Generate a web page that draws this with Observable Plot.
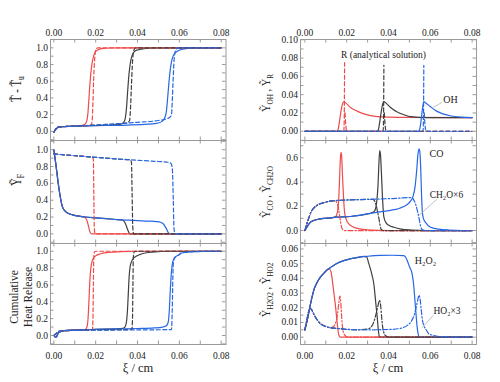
<!DOCTYPE html>
<html><head><meta charset="utf-8">
<script src="https://cdn.jsdelivr.net/npm/d3@7"></script>
<script src="https://cdn.jsdelivr.net/npm/@observablehq/plot@0.6"></script>
<style>
body{margin:0;background:#fff}
#chart{position:relative;width:500px;height:382px;overflow:hidden;background:#fff}
#chart svg{position:absolute;top:0}
#chart svg, #chart svg text{font-family:"Liberation Serif","DejaVu Serif",serif !important}
</style></head><body><div id="chart"></div>
<script>
// ---------- ticks ----------
const xTickLabels = [0, 0.02, 0.04, 0.06, 0.08];
const xTickMarks = [0, 0.01, 0.02, 0.03, 0.04, 0.05, 0.06, 0.07, 0.08];
const yTicksUnit = [-0.1,0,0.1,0.2,0.3,0.4,0.5,0.6,0.7,0.8,0.9,1.0,1.1];
const yLabelsUnit = [0,0.2,0.4,0.6,0.8,1.0];
const yTicksOH = [-0.01,0,0.01,0.02,0.03,0.04,0.05,0.06,0.07,0.08,0.09,0.10];
const yLabelsOH = [0,0.02,0.04,0.06,0.08,0.10];
const yTicksCO = [-0.1,0,0.1,0.2,0.3,0.4,0.5,0.6,0.7];
const yLabelsCO = [0,0.2,0.4,0.6];
const yTicksH2O2 = [-0.005,0,0.005,0.01,0.015,0.02,0.025,0.03,0.035,0.04,0.045,0.05,0.055,0.06];
const yLabelsH2O2 = [0,0.01,0.02,0.03,0.04,0.05,0.06];

// ---------- panel: temperature ----------
const T_solid_red = [[0,-0.01],[0.0008,0.02],[0.002,0.045],[0.004,0.055],[0.008,0.06],[0.012,0.065],[0.014,0.075],[0.015,0.09],[0.0158,0.13],[0.0163,0.22],[0.0168,0.4],[0.0172,0.55],[0.0177,0.7],[0.0183,0.82],[0.019,0.9],[0.0198,0.95],[0.021,0.975],[0.023,0.99],[0.027,0.998],[0.035,1],[0.08,1]];
const T_solid_black = [[0,-0.01],[0.0008,0.02],[0.002,0.045],[0.004,0.055],[0.008,0.06],[0.015,0.065],[0.022,0.07],[0.028,0.075],[0.032,0.085],[0.0335,0.11],[0.0343,0.18],[0.0348,0.3],[0.0352,0.45],[0.0357,0.62],[0.0362,0.75],[0.0368,0.85],[0.0376,0.92],[0.0385,0.955],[0.04,0.975],[0.043,0.99],[0.048,0.998],[0.055,1],[0.08,1]];
const T_solid_blue = [[0,-0.01],[0.0008,0.02],[0.002,0.045],[0.004,0.055],[0.008,0.06],[0.015,0.065],[0.025,0.07],[0.035,0.075],[0.045,0.085],[0.05,0.1],[0.052,0.125],[0.053,0.16],[0.0538,0.24],[0.0544,0.4],[0.0549,0.55],[0.0554,0.68],[0.056,0.8],[0.0567,0.88],[0.0577,0.93],[0.059,0.96],[0.061,0.98],[0.064,0.993],[0.07,1],[0.08,1]];
const T_dash_red = [[0,-0.01],[0.0008,0.025],[0.002,0.05],[0.005,0.058],[0.01,0.062],[0.015,0.068],[0.0178,0.075],[0.0183,0.12],[0.0187,0.35],[0.019,0.6],[0.0194,0.82],[0.0198,0.94],[0.0203,0.99],[0.021,1.0],[0.08,1]];
const T_dash_black = [[0,-0.01],[0.0008,0.025],[0.002,0.05],[0.005,0.058],[0.01,0.062],[0.02,0.075],[0.03,0.09],[0.035,0.1],[0.0362,0.13],[0.0367,0.3],[0.0371,0.55],[0.0375,0.78],[0.0379,0.92],[0.0384,0.98],[0.039,1.0],[0.08,1]];
const T_dash_blue = [[0,-0.01],[0.0008,0.025],[0.002,0.05],[0.005,0.058],[0.01,0.062],[0.02,0.075],[0.03,0.09],[0.04,0.108],[0.05,0.13],[0.054,0.15],[0.0562,0.19],[0.0566,0.35],[0.057,0.6],[0.0574,0.82],[0.0578,0.93],[0.0584,0.98],[0.0595,1.0],[0.08,1]];

// ---------- panel: fuel ----------
const F_solid_red = [[0,1.0],[0.001,0.82],[0.002,0.62],[0.003,0.45],[0.004,0.33],[0.005,0.28],[0.0065,0.248],[0.009,0.226],[0.012,0.21],[0.0145,0.2],[0.0153,0.185],[0.016,0.145],[0.0166,0.085],[0.0171,0.035],[0.0175,0.01],[0.018,0],[0.08,0]];
const F_solid_black = [[0,1.0],[0.001,0.82],[0.002,0.62],[0.003,0.45],[0.004,0.33],[0.005,0.28],[0.0065,0.248],[0.009,0.226],[0.012,0.21],[0.015,0.2],[0.02,0.19],[0.025,0.18],[0.03,0.17],[0.0325,0.165],[0.0335,0.15],[0.0345,0.105],[0.0352,0.055],[0.0358,0.02],[0.0362,0.005],[0.0367,0],[0.08,0]];
const F_solid_blue = [[0,1.0],[0.001,0.82],[0.002,0.62],[0.003,0.45],[0.004,0.33],[0.005,0.28],[0.0065,0.248],[0.009,0.226],[0.012,0.21],[0.015,0.2],[0.02,0.19],[0.025,0.18],[0.03,0.17],[0.035,0.163],[0.04,0.157],[0.045,0.152],[0.049,0.146],[0.051,0.138],[0.052,0.125],[0.053,0.095],[0.054,0.05],[0.0547,0.015],[0.0552,0.003],[0.0557,0],[0.08,0]];
const F_dash_red = [[0,0.95],[0.005,0.94],[0.01,0.93],[0.015,0.92],[0.0185,0.912],[0.0189,0.88],[0.0191,0.5],[0.0193,0.1],[0.0196,0.01],[0.02,0],[0.08,0]];
const F_dash_black = [[0,0.95],[0.005,0.94],[0.01,0.93],[0.015,0.92],[0.02,0.91],[0.025,0.9],[0.03,0.89],[0.0365,0.88],[0.0371,0.85],[0.0374,0.5],[0.0377,0.1],[0.038,0.01],[0.0384,0],[0.08,0]];
const F_dash_blue = [[0,0.95],[0.01,0.93],[0.02,0.91],[0.03,0.89],[0.04,0.875],[0.05,0.86],[0.055,0.85],[0.0562,0.83],[0.0567,0.75],[0.0571,0.4],[0.0574,0.08],[0.0578,0.01],[0.0583,0],[0.08,0]];

// ---------- panel: cumulative heat release ----------
const Q_solid_red = [[0,0],[0.0005,-0.015],[0.001,-0.02],[0.0015,-0.005],[0.002,0.025],[0.003,0.045],[0.005,0.058],[0.01,0.065],[0.015,0.07],[0.0155,0.085],[0.016,0.12],[0.0164,0.22],[0.0168,0.42],[0.0172,0.65],[0.0177,0.8],[0.0183,0.88],[0.019,0.92],[0.02,0.945],[0.0223,0.97],[0.026,0.985],[0.032,0.995],[0.04,1],[0.08,1]];
const Q_solid_black = [[0,0],[0.0005,-0.015],[0.001,-0.02],[0.0015,-0.005],[0.002,0.025],[0.003,0.045],[0.005,0.058],[0.01,0.065],[0.015,0.07],[0.02,0.072],[0.025,0.075],[0.03,0.078],[0.033,0.085],[0.034,0.1],[0.0347,0.16],[0.0352,0.3],[0.0356,0.5],[0.036,0.7],[0.0365,0.82],[0.0372,0.88],[0.038,0.915],[0.039,0.935],[0.041,0.96],[0.043,0.976],[0.047,0.99],[0.055,1],[0.08,1]];
const Q_solid_blue = [[0,0],[0.0005,-0.015],[0.001,-0.02],[0.0015,-0.005],[0.002,0.025],[0.003,0.045],[0.005,0.058],[0.01,0.065],[0.015,0.07],[0.02,0.072],[0.03,0.078],[0.04,0.083],[0.048,0.09],[0.052,0.1],[0.0538,0.115],[0.0547,0.16],[0.0552,0.3],[0.0557,0.55],[0.0562,0.75],[0.0567,0.86],[0.0574,0.91],[0.0585,0.94],[0.06,0.96],[0.0606,0.975],[0.063,0.987],[0.068,0.996],[0.075,1],[0.08,1]];
const Q_dash_red = [[0,0],[0.001,0.02],[0.002,0.045],[0.004,0.055],[0.01,0.06],[0.015,0.063],[0.0184,0.065],[0.0187,0.2],[0.0189,0.6],[0.0191,0.93],[0.0194,0.99],[0.02,1.0],[0.08,1]];
const Q_dash_black = [[0,0],[0.001,0.02],[0.002,0.045],[0.004,0.055],[0.01,0.06],[0.02,0.065],[0.03,0.068],[0.0373,0.072],[0.0376,0.2],[0.0378,0.6],[0.038,0.93],[0.0384,0.99],[0.039,1.0],[0.08,1]];
const Q_dash_blue = [[0,0],[0.001,0.02],[0.002,0.045],[0.004,0.055],[0.01,0.06],[0.02,0.063],[0.03,0.065],[0.04,0.066],[0.05,0.068],[0.0562,0.07],[0.0566,0.3],[0.0569,0.7],[0.0572,0.88],[0.0578,0.92],[0.0588,0.945],[0.06,0.96],[0.0606,0.975],[0.063,0.987],[0.068,0.996],[0.075,1],[0.08,1]];

// ---------- panel: OH and R ----------
const OH_red = [[0,0],[0.0155,0],[0.016,0.003],[0.0165,0.01],[0.017,0.018],[0.0175,0.025],[0.018,0.03],[0.0186,0.0325],[0.0195,0.031],[0.0218,0.026],[0.025,0.022],[0.0282,0.019],[0.0346,0.016],[0.045,0.0152],[0.08,0.015]];
const OH_black = [[0,0],[0.0348,0],[0.0353,0.003],[0.0358,0.01],[0.0363,0.018],[0.0368,0.025],[0.0372,0.03],[0.0378,0.0325],[0.0387,0.031],[0.041,0.026],[0.0442,0.021],[0.0475,0.018],[0.0505,0.016],[0.058,0.015],[0.08,0.0148]];
const OH_blue = [[0,0],[0.0545,0],[0.055,0.003],[0.0555,0.01],[0.056,0.02],[0.0564,0.027],[0.0569,0.0325],[0.0578,0.031],[0.06,0.027],[0.063,0.022],[0.066,0.019],[0.07,0.0167],[0.075,0.0155],[0.08,0.015]];
// R: analytical spike (null = pen lifted at the tip)
const R_red = [[0,0],[0.0186,0],[0.0188,0.01],[0.019,0.075],[0.0191,null],[0.0192,0.02],[0.0196,0.006],[0.0201,0],[0.08,0]];
const R_black = [[0,0],[0.0374,0],[0.0376,0.01],[0.0378,0.072],[0.0379,null],[0.038,0.02],[0.0384,0.006],[0.0389,0],[0.08,0]];
const R_blue = [[0,0],[0.0565,0],[0.0567,0.01],[0.0569,0.072],[0.057,null],[0.0571,0.02],[0.0575,0.006],[0.058,0],[0.08,0]];

// ---------- panel: CO and CH2O ----------
const CO_red = [[0,0],[0.001,0.03],[0.0027,0.069],[0.004,0.082],[0.0059,0.091],[0.009,0.1],[0.0123,0.105],[0.0145,0.11],[0.0152,0.13],[0.0158,0.18],[0.0163,0.3],[0.0167,0.48],[0.017,0.6],[0.0173,0.645],[0.0176,0.61],[0.018,0.45],[0.0185,0.27],[0.019,0.15],[0.0198,0.09],[0.021,0.055],[0.0234,0.027],[0.027,0.012],[0.032,0.004],[0.04,0],[0.08,0]];
const CO_black = [[0,0],[0.001,0.03],[0.0027,0.069],[0.004,0.082],[0.0059,0.091],[0.009,0.1],[0.0123,0.105],[0.0145,0.11],[0.0218,0.116],[0.026,0.125],[0.0306,0.14],[0.033,0.155],[0.0338,0.18],[0.0345,0.26],[0.035,0.38],[0.0354,0.55],[0.0358,0.66],[0.0362,0.62],[0.0366,0.48],[0.037,0.32],[0.0374,0.19],[0.0378,0.11],[0.0388,0.065],[0.04,0.045],[0.0426,0.027],[0.046,0.012],[0.051,0.004],[0.058,0],[0.08,0]];
const CO_blue = [[0,0],[0.001,0.03],[0.0027,0.069],[0.004,0.082],[0.0059,0.091],[0.009,0.1],[0.0123,0.105],[0.0145,0.11],[0.0218,0.116],[0.026,0.125],[0.0306,0.14],[0.035,0.152],[0.041,0.167],[0.0447,0.18],[0.0473,0.198],[0.049,0.215],[0.0505,0.242],[0.0517,0.28],[0.0527,0.36],[0.0535,0.5],[0.0541,0.63],[0.0546,0.675],[0.055,0.65],[0.0554,0.52],[0.0558,0.3],[0.0562,0.15],[0.0567,0.1],[0.0578,0.065],[0.0601,0.027],[0.064,0.012],[0.069,0.004],[0.075,0],[0.08,0]];
const CH2O_red = [[0,0],[0.001,0.06],[0.002,0.11],[0.003,0.155],[0.004,0.18],[0.006,0.21],[0.009,0.23],[0.012,0.242],[0.0145,0.246],[0.015,0.238],[0.0156,0.215],[0.0162,0.17],[0.0167,0.11],[0.0172,0.055],[0.0177,0.02],[0.0183,0.005],[0.019,0],[0.08,0]];
const CH2O_black = [[0,0],[0.001,0.06],[0.002,0.11],[0.003,0.155],[0.004,0.18],[0.006,0.21],[0.009,0.23],[0.012,0.242],[0.015,0.248],[0.02,0.252],[0.025,0.255],[0.0325,0.257],[0.0333,0.245],[0.034,0.215],[0.0347,0.16],[0.0354,0.1],[0.0359,0.05],[0.0363,0.018],[0.0368,0.004],[0.0375,0],[0.08,0]];
const CH2O_blue = [[0,0],[0.001,0.06],[0.002,0.11],[0.003,0.155],[0.004,0.18],[0.006,0.21],[0.009,0.23],[0.012,0.242],[0.015,0.248],[0.02,0.252],[0.03,0.257],[0.04,0.263],[0.045,0.267],[0.05,0.272],[0.0513,0.27],[0.052,0.255],[0.053,0.215],[0.054,0.15],[0.0548,0.085],[0.0553,0.04],[0.0558,0.015],[0.0565,0.004],[0.0575,0],[0.08,0]];

// ---------- panel: H2O2 and HO2 ----------
const H2O2_red = [[0,0.005],[0.0011,0.0114],[0.0027,0.0227],[0.0045,0.033],[0.0059,0.0374],[0.0075,0.041],[0.0091,0.0435],[0.011,0.0462],[0.0118,0.0462],[0.0125,0.0445],[0.0131,0.039],[0.0138,0.031],[0.0147,0.0204],[0.0155,0.009],[0.016,0.003],[0.0166,0.0003],[0.017,0],[0.08,0]];
const H2O2_black = [[0,0.005],[0.0011,0.0114],[0.0027,0.0227],[0.0045,0.033],[0.0059,0.0374],[0.0075,0.041],[0.0091,0.0435],[0.011,0.0462],[0.013,0.048],[0.0155,0.0503],[0.0218,0.0533],[0.025,0.054],[0.0282,0.0549],[0.0295,0.0545],[0.0306,0.05],[0.0318,0.044],[0.033,0.036],[0.034,0.022],[0.0346,0.0136],[0.0352,0.004],[0.0356,0.0005],[0.036,0],[0.08,0]];
const H2O2_blue = [[0,0.005],[0.0011,0.0114],[0.0027,0.0227],[0.0045,0.033],[0.0059,0.0374],[0.0075,0.041],[0.0091,0.0435],[0.011,0.0462],[0.013,0.048],[0.0155,0.0503],[0.0218,0.0533],[0.025,0.0542],[0.03,0.055],[0.036,0.0556],[0.042,0.0557],[0.0471,0.0555],[0.048,0.0548],[0.049,0.052],[0.05,0.048],[0.0513,0.043],[0.052,0.036],[0.0529,0.0204],[0.0537,0.007],[0.0542,0.002],[0.0548,0],[0.08,0]];
const HO2_red = [[0,0.005],[0.001,0.012],[0.002,0.0185],[0.0027,0.0195],[0.0035,0.018],[0.0045,0.015],[0.006,0.0115],[0.0075,0.0091],[0.01,0.0072],[0.0123,0.0064],[0.0135,0.007],[0.0145,0.009],[0.0153,0.013],[0.0159,0.019],[0.0163,0.024],[0.0167,0.028],[0.0171,0.025],[0.0175,0.016],[0.0179,0.008],[0.0185,0.003],[0.0195,0.0008],[0.021,0],[0.08,0]];
const HO2_black = [[0,0.005],[0.001,0.012],[0.002,0.0185],[0.0027,0.0195],[0.0035,0.018],[0.0045,0.015],[0.006,0.0115],[0.0075,0.0091],[0.01,0.0072],[0.0123,0.0064],[0.015,0.006],[0.02,0.0053],[0.025,0.005],[0.03,0.0055],[0.032,0.0075],[0.033,0.0105],[0.034,0.0155],[0.0349,0.021],[0.0357,0.025],[0.0362,0.022],[0.0367,0.014],[0.0372,0.007],[0.0378,0.003],[0.0388,0.0008],[0.04,0],[0.08,0]];
const HO2_blue = [[0,0.005],[0.001,0.012],[0.002,0.0185],[0.0027,0.0195],[0.0035,0.018],[0.0045,0.015],[0.006,0.0115],[0.0075,0.0091],[0.01,0.0072],[0.0123,0.0064],[0.015,0.006],[0.02,0.0053],[0.03,0.005],[0.04,0.0052],[0.045,0.0058],[0.049,0.008],[0.051,0.011],[0.0525,0.016],[0.0535,0.022],[0.0541,0.026],[0.0546,0.0285],[0.0551,0.026],[0.0557,0.018],[0.0563,0.011],[0.0569,0.008],[0.058,0.005],[0.0595,0.002],[0.0609,0.0014],[0.065,0.0003],[0.07,0],[0.08,0]];

// ---------- annotations ----------
const notesOH = [{x:0.0376,y:0.0836,t:"R (analytical solution)",s:9.5},{x:0.0697,y:0.0345,t:"OH",s:10}];
const leaderOH = [{x1:0.0657,y1:0.0316,x2:0.0614,y2:0.0262}];
const notesCO = [{x:0.063,y:0.633,t:"CO",s:10},{x:0.0677,y:0.297,t:"CH\u2082O\u00d76",s:9.5}];
const leaderCO = [{x1:0.063,y1:0.256,x2:0.0545,y2:0.124}];
const notesH2O2 = [{x:0.0577,y:0.0517,t:"H\u2082O\u2082",s:10},{x:0.068,y:0.0175,t:"HO\u2082\u00d73",s:9.5}];
const leaderH2O2 = [{x1:0.0614,y1:0.0148,x2:0.0561,y2:0.0064}];

// ---------- styling ----------
const C = {red:"#f04a4a", black:"#3f3f3f", blue:"#2767e3"};
const FRAME = "#9a9a9a";
const DASH = "4,2.5", DASHDOT = "5,2,1.4,2";
const FONT = "Liberation Serif";

function trio(reds, blacks, blues, dash) {
  return [{d:reds,c:C.red,dash},{d:blacks,c:C.black,dash},{d:blues,c:C.blue,dash}];
}

function panel(o) {
  const W = 250, H = 382, ml = 50, mr = o.mr;
  const fw = W - ml - mr, fh = o.bottom - o.top, L = 3.5;
  const lo = o.yDomain[0] - 1e-9, hi = o.yDomain[1] + 1e-9;
  const yt = o.yTicks.filter(v => v >= lo && v <= hi);
  const marks = [];
  for (const s of o.series) {
    marks.push(Plot.line(s.d, {x: d => d[0], y: d => d[1], stroke: s.c, strokeWidth: 1.2,
      strokeDasharray: s.dash || null, curve: "monotone-x"}));
  }
  if (o.leaders) marks.push(Plot.link(o.leaders, {x1:"x1", y1:"y1", x2:"x2", y2:"y2", stroke:"#b0b0b0", strokeWidth:0.8}));
  if (o.notes) for (const n of o.notes) marks.push(Plot.text([n], {x:"x", y:"y", text:"t", fontSize:n.s, fill:"#222", fontFamily: FONT}));
  marks.push(Plot.frame({stroke: FRAME, strokeWidth: 1}));
  marks.push(Plot.tickX(xTickMarks, {x: d => d, stroke: FRAME, insetTop: fh - L}));
  marks.push(Plot.tickX(xTickMarks, {x: d => d, stroke: FRAME, insetBottom: fh - L}));
  marks.push(Plot.tickY(yt, {y: d => d, stroke: FRAME, insetRight: fw - L}));
  marks.push(Plot.tickY(yt, {y: d => d, stroke: FRAME, insetLeft: fw - L}));
  marks.push(Plot.axisY({anchor: "left", ticks: o.yLabels, tickSize: 0, tickPadding: 2.5,
    tickFormat: d3.format(o.yFmt), label: null, fill: "#222", fontFamily: FONT}));
  if (o.xAxis === "top") marks.push(Plot.axisX({anchor: "top", ticks: xTickLabels, tickSize: 0, tickPadding: 4,
    tickFormat: d3.format(".2f"), label: null, fill: "#222", fontFamily: FONT}));
  if (o.xAxis === "bottom") marks.push(Plot.axisX({anchor: "bottom", ticks: xTickLabels, tickSize: 0, tickPadding: 8,
    tickFormat: d3.format(".2f"), label: null, fill: "#222", fontFamily: FONT}));
  const svg = Plot.plot({
    width: W, height: H, marginLeft: ml, marginRight: mr, marginTop: o.top, marginBottom: H - o.bottom,
    x: {domain: o.xDomain, axis: null}, y: {domain: o.yDomain, axis: null},
    style: {background: "transparent", fontFamily: FONT, fontSize: "9.5px", color: "#222", overflow: "visible"},
    marks
  });
  svg.style.left = o.left + "px";
  return svg;
}

const chart = document.getElementById("chart");
const xL = [-0.0016, 0.0823], xR = [-0.0021, 0.0821];
const panels = [
  {left:0, mr:24.5, xDomain:xL, top:39, bottom:140, yDomain:[-0.11,1.1], yTicks:yTicksUnit, yLabels:yLabelsUnit, yFmt:".1f", xAxis:"top",
   series:[...trio(T_solid_red,T_solid_black,T_solid_blue), ...trio(T_dash_red,T_dash_black,T_dash_blue,DASH)]},
  {left:0, mr:24.5, xDomain:xL, top:140, bottom:243, yDomain:[-0.115,1.11], yTicks:yTicksUnit, yLabels:yLabelsUnit, yFmt:".1f",
   series:[...trio(F_solid_red,F_solid_black,F_solid_blue), ...trio(F_dash_red,F_dash_black,F_dash_blue,DASH)]},
  {left:0, mr:24.5, xDomain:xL, top:243, bottom:344, yDomain:[-0.107,1.092], yTicks:yTicksUnit, yLabels:yLabelsUnit, yFmt:".1f", xAxis:"bottom",
   series:[...trio(Q_solid_red,Q_solid_black,Q_solid_blue), ...trio(Q_dash_red,Q_dash_black,Q_dash_blue,DASH)]},
  {left:250, mr:24, xDomain:xR, top:39, bottom:140, yDomain:[-0.0101,0.1003], yTicks:yTicksOH, yLabels:yLabelsOH, yFmt:".2f", xAxis:"top",
   series:[...trio(OH_red,OH_black,OH_blue), ...trio(R_red,R_black,R_blue,DASH)], notes:notesOH, leaders:leaderOH},
  {left:250, mr:24, xDomain:xR, top:140, bottom:243, yDomain:[-0.107,0.743], yTicks:yTicksCO, yLabels:yLabelsCO, yFmt:".1f",
   series:[...trio(CO_red,CO_black,CO_blue), ...trio(CH2O_red,CH2O_black,CH2O_blue,DASHDOT)], notes:notesCO, leaders:leaderCO},
  {left:250, mr:24, xDomain:xR, top:243, bottom:344, yDomain:[-0.005,0.0637], yTicks:yTicksH2O2, yLabels:yLabelsH2O2, yFmt:".2f", xAxis:"bottom",
   series:[...trio(H2O2_red,H2O2_black,H2O2_blue), ...trio(HO2_red,HO2_black,HO2_blue,DASHDOT)], notes:notesH2O2, leaders:leaderH2O2}
];
for (const p of panels) chart.appendChild(panel(p));

// ---------- titles ----------
const ov = d3.create("svg").attr("width", 500).attr("height", 382)
  .style("left", "0px").style("fill", "#222").style("pointer-events", "none");
function yTitle(cx, cy, parts, size, sx) {
  const t = ov.append("text").attr("transform", `translate(${cx},${cy}) rotate(-90) scale(${sx},1)`)
    .attr("text-anchor", "middle").attr("dominant-baseline", "central").attr("font-family", FONT).style("font-size", size + "px");
  const sh = size * 0.28;
  let down = false;
  for (const p of parts) {
    const ts = t.append("tspan").text(p[0]);
    if (p[1] && !down) { ts.attr("dy", sh).style("font-size", (size * 0.7) + "px"); down = true; }
    else if (!p[1] && down) { ts.attr("dy", -sh); down = false; }
  }
}
yTitle(17, 89, [["T\u0303 - T\u0303"],["u",1]], 14, 0.78);
yTitle(17, 180, [["\u1EF8"],["F",1]], 14, 0.78);
yTitle(266, 93, [["\u1EF8"],["OH",1],[" , \u1EF8"],["R",1]], 13, 0.8);
yTitle(266, 192, [["\u1EF8"],["CO",1],[" , \u1EF8"],["CH2O",1]], 13, 0.8);
yTitle(266, 290, [["\u1EF8"],["H2O2",1],[" , \u1EF8"],["HO2",1]], 13, 0.8);
ov.append("text").attr("transform", "translate(14,297) rotate(-90) scale(0.92,1)").attr("text-anchor","middle")
  .attr("dominant-baseline","central").attr("font-family", FONT).style("font-size","12.5px").text("Cumulative");
ov.append("text").attr("transform", "translate(27.5,297) rotate(-90) scale(0.92,1)").attr("text-anchor","middle")
  .attr("dominant-baseline","central").attr("font-family", FONT).style("font-size","12.5px").text("Heat Release");
ov.append("text").attr("x", 138).attr("y", 372).attr("text-anchor","middle").attr("font-family", FONT).style("font-size","12.5px").text("\u03BE / cm");
ov.append("text").attr("x", 388).attr("y", 372).attr("text-anchor","middle").attr("font-family", FONT).style("font-size","12.5px").text("\u03BE / cm");
chart.appendChild(ov.node());
</script></body></html>
